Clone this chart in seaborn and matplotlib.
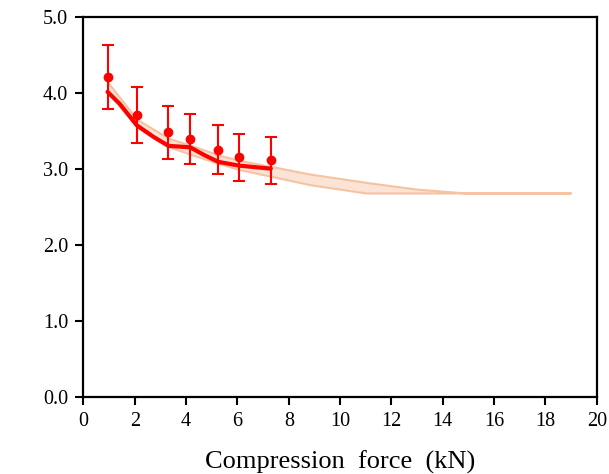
import numpy as np
import pandas as pd
import seaborn as sns
import matplotlib.pyplot as plt

# measured points with error bars
force = [0.94, 2.08, 3.31, 4.16, 5.25, 6.05, 7.30]
measured = [4.20, 3.71, 3.48, 3.39, 3.25, 3.15, 3.11]
err = [0.42, 0.37, 0.35, 0.33, 0.32, 0.31, 0.31]

# fitted red curve
fit_x = [0.94, 1.42, 2.08, 2.72, 3.31, 3.75, 4.16, 4.70, 5.25, 6.05, 7.30]
fit_y = [4.01, 3.85, 3.57, 3.42, 3.30, 3.29, 3.28, 3.18, 3.09, 3.04, 3.00]

# shaded band
band_x = [0.94, 2.08, 3.31, 4.16, 5.25, 6.05, 7.30, 8.81, 11.0, 13.0, 14.9, 18.97]
band_hi = [4.14, 3.65, 3.40, 3.31, 3.18, 3.11, 3.03, 2.93, 2.82, 2.73, 2.68, 2.68]
band_lo = [4.01, 3.55, 3.29, 3.19, 3.07, 2.99, 2.90, 2.79, 2.68, 2.68, 2.68, 2.68]

sns.set_theme(style="ticks")
plt.rcParams['font.family'] = ['Liberation Serif', 'DejaVu Serif']

fig = plt.figure(figsize=(6.09, 4.74), dpi=100)
ax = fig.add_axes([0.137, 0.163, 0.843, 0.802])

ax.fill_between(band_x, band_lo, band_hi, facecolor='#fbe3d6',
                edgecolor='#f6c3a2', linewidth=1.5, zorder=1)

fit = pd.DataFrame({'x': fit_x, 'y': fit_y})
sns.lineplot(data=fit, x='x', y='y', color='red', linewidth=3, ax=ax, zorder=3)

ax.errorbar(force, measured, yerr=err, fmt='o', color='red', markersize=6,
            elinewidth=1.5, capsize=4.5, capthick=1.5, zorder=4)

ax.set_xlim(0, 20)
ax.set_ylim(0, 5)
ax.set_xticks(np.arange(0, 21, 2))
ax.set_yticks(np.arange(0, 5.1, 1))
ax.set_yticklabels([f'{v:.1f}' for v in np.arange(0, 5.1, 1)])
ax.set_xlabel('Compression  force  (kN)', fontsize=19, labelpad=14, color='black')
ax.set_ylabel('')
for s in ax.spines.values():
    s.set_linewidth(1.6)
    s.set_color('black')
ax.tick_params(direction='out', length=6, width=1.5, labelsize=14.5,
               colors='black', pad=5)

fig.savefig('out.png', dpi=100)
